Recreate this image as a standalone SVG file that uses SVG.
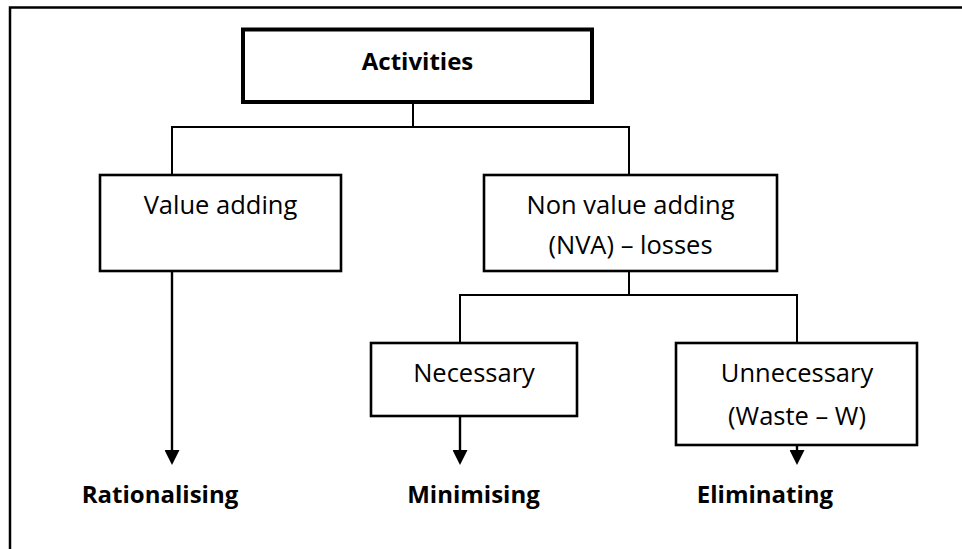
<svg xmlns="http://www.w3.org/2000/svg" width="962" height="549" viewBox="0 0 962 549">
  <style>
    .box { fill: #ffffff; stroke: #000000; stroke-width: 2.6; }
    .main { fill: #ffffff; stroke: #000000; stroke-width: 4; }
    .conn { fill: none; stroke: #000000; stroke-width: 2; }
    .arrow { fill: none; stroke: #000000; stroke-width: 2.4; }
    .reg { font-family: "Open Sans", "Noto Sans", "DejaVu Sans", sans-serif; font-size: 25.5px; fill: #000000; text-anchor: middle; }
    .bold { font-family: "Open Sans", "Noto Sans", "DejaVu Sans", sans-serif; font-size: 24px; font-weight: bold; fill: #000000; text-anchor: middle; }
  </style>
  <defs>
    <marker id="ah" viewBox="0 0 15 15" refX="0" refY="7.5" markerWidth="15" markerHeight="15" markerUnits="userSpaceOnUse" orient="auto">
      <path d="M0,0 L15,7.5 L0,15 z" fill="#000000"/>
    </marker>
  </defs>
  <rect x="0" y="0" width="962" height="549" fill="#ffffff"/>
  <path d="M10,549 V7.5 H962" fill="none" stroke="#000000" stroke-width="2.5"/>

  <g id="connectors">
    <path class="conn" d="M413,103 V127"/>
    <path class="conn" d="M172,175 V127 H629 V175"/>
    <path class="conn" d="M629,271 V295"/>
    <path class="conn" d="M460,343 V295 H797 V343"/>
    <path class="arrow" d="M172,271 V450" marker-end="url(#ah)"/>
    <path class="arrow" d="M460,416 V450" marker-end="url(#ah)"/>
    <path class="arrow" d="M797,445 V450" marker-end="url(#ah)"/>
  </g>

  <g id="activities">
    <rect class="main" x="243" y="29.5" width="349" height="72.5"/>
    <text class="bold" x="417.5" y="70">Activities</text>
  </g>
  <g id="value-adding">
    <rect class="box" x="100" y="175" width="241" height="96"/>
    <text class="reg" x="220.5" y="214">Value adding</text>
  </g>
  <g id="non-value-adding">
    <rect class="box" x="484" y="175" width="293" height="96"/>
    <text class="reg" x="630.5" y="214">Non value adding</text>
    <text class="reg" x="630.5" y="254">(NVA) – losses</text>
  </g>
  <g id="necessary">
    <rect class="box" x="371" y="343" width="206" height="73"/>
    <text class="reg" x="474" y="381.5">Necessary</text>
  </g>
  <g id="unnecessary">
    <rect class="box" x="676" y="343" width="241" height="102"/>
    <text class="reg" x="797" y="381.5">Unnecessary</text>
    <text class="reg" x="797" y="425">(Waste – W)</text>
  </g>
  <g id="rationalising">
    <text class="bold" x="160" y="503">Rationalising</text>
  </g>
  <g id="minimising">
    <text class="bold" x="473.5" y="503">Minimising</text>
  </g>
  <g id="eliminating">
    <text class="bold" x="765" y="503">Eliminating</text>
  </g>
</svg>
